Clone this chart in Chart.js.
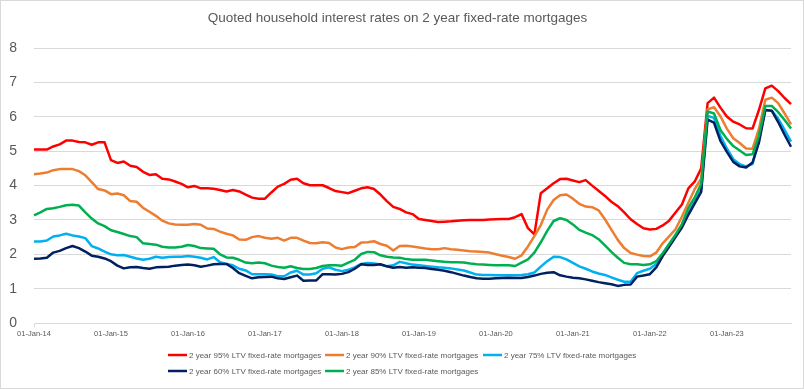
<!DOCTYPE html>
<html>
<head>
<title>Quoted household interest rates on 2 year fixed-rate mortgages</title>
<script src="https://cdn.jsdelivr.net/npm/chart.js"></script>
<style>
  body { margin: 0; background: #fff; }
</style>
</head>
<body>
<canvas id="rates" width="804" height="389"></canvas>
<script>
// monthly observations, Jan 2014 - Nov 2023
const monthNames = ['Jan', 'Feb', 'Mar', 'Apr', 'May', 'Jun', 'Jul', 'Aug', 'Sep', 'Oct', 'Nov', 'Dec'];
const months = [];
for (let y = 14; y <= 23; y++) {
    for (let m = 0; m < 12; m++) {
        if (y === 23 && m > 10) break;
        months.push('01-' + monthNames[m] + '-' + y);
    }
}

const ltv95 = [5.05, 5.05, 5.05, 5.14, 5.20, 5.31, 5.31, 5.27, 5.26, 5.19, 5.26, 5.26,
    4.74, 4.66, 4.70, 4.58, 4.54, 4.40, 4.31, 4.33, 4.20, 4.18, 4.12, 4.05,
    3.95, 3.99, 3.92, 3.92, 3.91, 3.87, 3.83, 3.87, 3.83, 3.74, 3.65, 3.62,
    3.62, 3.80, 3.97, 4.05, 4.17, 4.20, 4.07, 4.01, 4.01, 4.01, 3.93, 3.84,
    3.81, 3.78, 3.85, 3.92, 3.95, 3.90, 3.74, 3.55, 3.38, 3.32, 3.22, 3.17,
    3.03, 3.00, 2.97, 2.94, 2.95, 2.96, 2.98, 2.99, 3.00, 3.00, 3.00, 3.01,
    3.02, 3.03, 3.03, 3.08, 3.17, 2.76, 2.58, 3.78, 3.92, 4.07, 4.19, 4.20,
    4.15, 4.10, 4.16, 4.00, 3.85, 3.70, 3.53, 3.40, 3.22, 3.02, 2.88, 2.76,
    2.72, 2.74, 2.84, 2.98, 3.22, 3.45, 3.92, 4.12, 4.50, 6.40, 6.56, 6.27,
    6.01, 5.86, 5.78, 5.67, 5.66, 6.20, 6.83, 6.91, 6.75, 6.55, 6.37];

const ltv90 = [4.33, 4.35, 4.38, 4.45, 4.48, 4.48, 4.48, 4.42, 4.30, 4.10, 3.90, 3.86,
    3.75, 3.77, 3.72, 3.55, 3.53, 3.35, 3.24, 3.12, 2.98, 2.90, 2.87, 2.86,
    2.86, 2.88, 2.86, 2.75, 2.74, 2.66, 2.60, 2.55, 2.43, 2.42, 2.50, 2.53,
    2.48, 2.45, 2.48, 2.40, 2.48, 2.48, 2.40, 2.33, 2.32, 2.35, 2.33, 2.20,
    2.15, 2.20, 2.21, 2.34, 2.35, 2.38, 2.30, 2.25, 2.11, 2.24, 2.25, 2.23,
    2.20, 2.17, 2.15, 2.15, 2.18, 2.15, 2.13, 2.11, 2.09, 2.08, 2.07, 2.05,
    2.00, 1.96, 1.92, 1.87, 1.97, 2.23, 2.53, 2.85, 3.30, 3.58, 3.72, 3.74,
    3.62, 3.47, 3.39, 3.37, 3.28, 3.02, 2.72, 2.42, 2.18, 2.04, 1.99, 1.95,
    1.94, 2.05, 2.32, 2.52, 2.73, 3.10, 3.50, 3.90, 4.20, 6.22, 6.28, 6.02,
    5.66, 5.38, 5.24, 5.08, 5.07, 5.65, 6.50, 6.56, 6.40, 6.10, 5.78];

const ltv75 = [2.37, 2.37, 2.40, 2.52, 2.55, 2.60, 2.55, 2.52, 2.47, 2.24, 2.17, 2.08,
    2.00, 1.97, 1.98, 1.93, 1.88, 1.84, 1.87, 1.93, 1.90, 1.92, 1.93, 1.93,
    1.95, 1.93, 1.90, 1.85, 1.92, 1.77, 1.72, 1.68, 1.58, 1.53, 1.42, 1.42,
    1.42, 1.41, 1.36, 1.36, 1.47, 1.52, 1.41, 1.41, 1.45, 1.58, 1.62, 1.55,
    1.51, 1.55, 1.62, 1.72, 1.75, 1.73, 1.70, 1.65, 1.68, 1.78, 1.74, 1.70,
    1.68, 1.66, 1.64, 1.62, 1.61, 1.59, 1.56, 1.53, 1.47, 1.41, 1.40, 1.40,
    1.39, 1.39, 1.39, 1.39, 1.40, 1.42, 1.47, 1.64, 1.80, 1.93, 1.92, 1.85,
    1.75, 1.65, 1.58, 1.50, 1.44, 1.40, 1.33, 1.26, 1.20, 1.20, 1.45, 1.52,
    1.58, 1.72, 2.00, 2.27, 2.55, 2.82, 3.20, 3.55, 3.90, 6.03, 5.97, 5.45,
    5.08, 4.77, 4.62, 4.56, 4.63, 5.35, 6.20, 6.18, 5.95, 5.62, 5.28];

const ltv60 = [1.87, 1.88, 1.90, 2.05, 2.10, 2.18, 2.24, 2.18, 2.08, 1.96, 1.93, 1.88,
    1.80, 1.67, 1.59, 1.62, 1.63, 1.60, 1.58, 1.62, 1.63, 1.64, 1.67, 1.69,
    1.70, 1.68, 1.64, 1.67, 1.71, 1.72, 1.72, 1.60, 1.45, 1.37, 1.30, 1.33,
    1.34, 1.35, 1.30, 1.28, 1.33, 1.38, 1.23, 1.24, 1.24, 1.42, 1.42, 1.41,
    1.43, 1.48, 1.58, 1.71, 1.69, 1.69, 1.71, 1.65, 1.61, 1.63, 1.61, 1.62,
    1.61, 1.60, 1.57, 1.55, 1.52, 1.48, 1.43, 1.38, 1.34, 1.30, 1.29, 1.29,
    1.30, 1.31, 1.32, 1.31, 1.31, 1.34, 1.38, 1.43, 1.46, 1.48, 1.39, 1.35,
    1.32, 1.30, 1.27, 1.23, 1.19, 1.16, 1.13, 1.08, 1.11, 1.12, 1.35, 1.38,
    1.42, 1.62, 1.95, 2.22, 2.50, 2.78, 3.15, 3.48, 3.82, 5.92, 5.83, 5.30,
    4.98, 4.69, 4.56, 4.53, 4.67, 5.25, 6.20, 6.18, 5.85, 5.48, 5.13];

const ltv85 = [3.13, 3.22, 3.32, 3.34, 3.38, 3.43, 3.44, 3.42, 3.22, 3.04, 2.90, 2.82,
    2.70, 2.65, 2.59, 2.53, 2.50, 2.32, 2.30, 2.28, 2.22, 2.20, 2.20, 2.22,
    2.27, 2.24, 2.18, 2.17, 2.16, 2.00, 1.91, 1.90, 1.84, 1.76, 1.74, 1.76,
    1.74, 1.67, 1.63, 1.61, 1.65, 1.60, 1.57, 1.57, 1.60, 1.66, 1.68, 1.68,
    1.67, 1.76, 1.84, 2.01, 2.07, 2.06, 1.97, 1.93, 1.91, 1.90, 1.86, 1.84,
    1.84, 1.84, 1.82, 1.80, 1.78, 1.77, 1.77, 1.76, 1.73, 1.71, 1.70, 1.69,
    1.68, 1.68, 1.68, 1.66, 1.76, 1.85, 2.05, 2.35, 2.68, 2.97, 3.05, 3.00,
    2.87, 2.71, 2.63, 2.56, 2.44, 2.26, 2.07, 1.90, 1.75, 1.71, 1.71, 1.69,
    1.71, 1.80, 2.03, 2.30, 2.57, 2.88, 3.35, 3.66, 4.05, 6.16, 6.10, 5.62,
    5.36, 5.15, 5.02, 4.89, 4.91, 5.45, 6.32, 6.32, 6.14, 5.91, 5.66];

const seriesNames = [
    '2 year 95% LTV fixed-rate mortgages',
    '2 year 90% LTV fixed-rate mortgages',
    '2 year 75% LTV fixed-rate mortgages',
    '2 year 60% LTV fixed-rate mortgages',
    '2 year 85% LTV fixed-rate mortgages'
];
const seriesData = [ltv95, ltv90, ltv75, ltv60, ltv85];
const seriesColors = ['#ff0000', '#ed7d31', '#00b0f0', '#002060', '#00b050'];

const FONT = '"Liberation Sans", Arial, sans-serif';
const TEXT = '#595959';
const GRID = '#d9d9d9';

// Excel-style legend: 3 items on the first row, 2 below, left aligned
const legendCols = [168, 325, 483];
const legendRows = [355, 371];

const chartFrame = {
    id: 'chartFrame',
    beforeDraw(chart) {
        const ctx = chart.ctx;
        ctx.save();
        ctx.fillStyle = '#fff';
        ctx.fillRect(0, 0, chart.width, chart.height);
        ctx.strokeStyle = GRID;
        ctx.lineWidth = 1;
        ctx.strokeRect(0.5, 0.5, chart.width - 1, chart.height - 1);
        ctx.restore();
    }
};

const bottomLegend = {
    id: 'bottomLegend',
    afterDraw(chart) {
        const ctx = chart.ctx;
        ctx.save();
        ctx.font = '8px ' + FONT;
        ctx.textBaseline = 'middle';
        chart.data.datasets.forEach(function(ds, i) {
            const x = legendCols[i % 3];
            const y = legendRows[Math.floor(i / 3)];
            ctx.strokeStyle = ds.borderColor;
            ctx.lineWidth = 2.5;
            ctx.beginPath();
            ctx.moveTo(x, y);
            ctx.lineTo(x + 19, y);
            ctx.stroke();
            ctx.fillStyle = TEXT;
            ctx.fillText(ds.label, x + 21, y + 0.5);
        });
        ctx.restore();
    }
};

new Chart(document.getElementById('rates'), {
    type: 'line',
    data: {
        labels: months,
        datasets: seriesData.map(function(values, i) {
            return {
                label: seriesNames[i],
                data: values,
                borderColor: seriesColors[i],
                backgroundColor: seriesColors[i],
                borderWidth: 2.5,
                pointRadius: 0,
                tension: 0,
                fill: false,
                borderJoinStyle: 'round',
                order: seriesData.length - 1 - i
            };
        })
    },
    options: {
        responsive: false,
        animation: false,
        devicePixelRatio: 1,
        layout: { padding: { left: 4, right: 13, top: 0, bottom: 48 } },
        plugins: {
            legend: { display: false },
            tooltip: { enabled: false },
            title: {
                display: true,
                text: 'Quoted household interest rates on 2 year fixed-rate mortgages',
                color: TEXT,
                font: { family: FONT, size: 13.5, weight: 'normal' },
                padding: { top: 10, bottom: 22 }
            }
        },
        scales: {
            x: {
                grid: {
                    drawOnChartArea: false,
                    drawTicks: true,
                    tickLength: 4,
                    color: function(c) {
                        return months[c.index] && months[c.index].indexOf('01-Jan') === 0 ? GRID : 'rgba(0,0,0,0)';
                    }
                },
                border: { display: true, color: GRID },
                ticks: {
                    autoSkip: false,
                    maxRotation: 0,
                    minRotation: 0,
                    padding: 2,
                    color: TEXT,
                    font: { family: FONT, size: 7.5 },
                    callback: function(val) {
                        const l = this.getLabelForValue(val);
                        return l.indexOf('01-Jan') === 0 ? l : null;
                    }
                },
                afterFit: function(scale) { scale.height = 18; }
            },
            y: {
                min: 0,
                max: 8,
                grid: { color: GRID, drawTicks: false },
                border: { display: false },
                ticks: {
                    stepSize: 1,
                    padding: 17,
                    color: TEXT,
                    font: { family: FONT, size: 14 }
                },
                afterFit: function(scale) { scale.width = 30; }
            }
        }
    },
    plugins: [chartFrame, bottomLegend]
});
</script>
</body>
</html>
